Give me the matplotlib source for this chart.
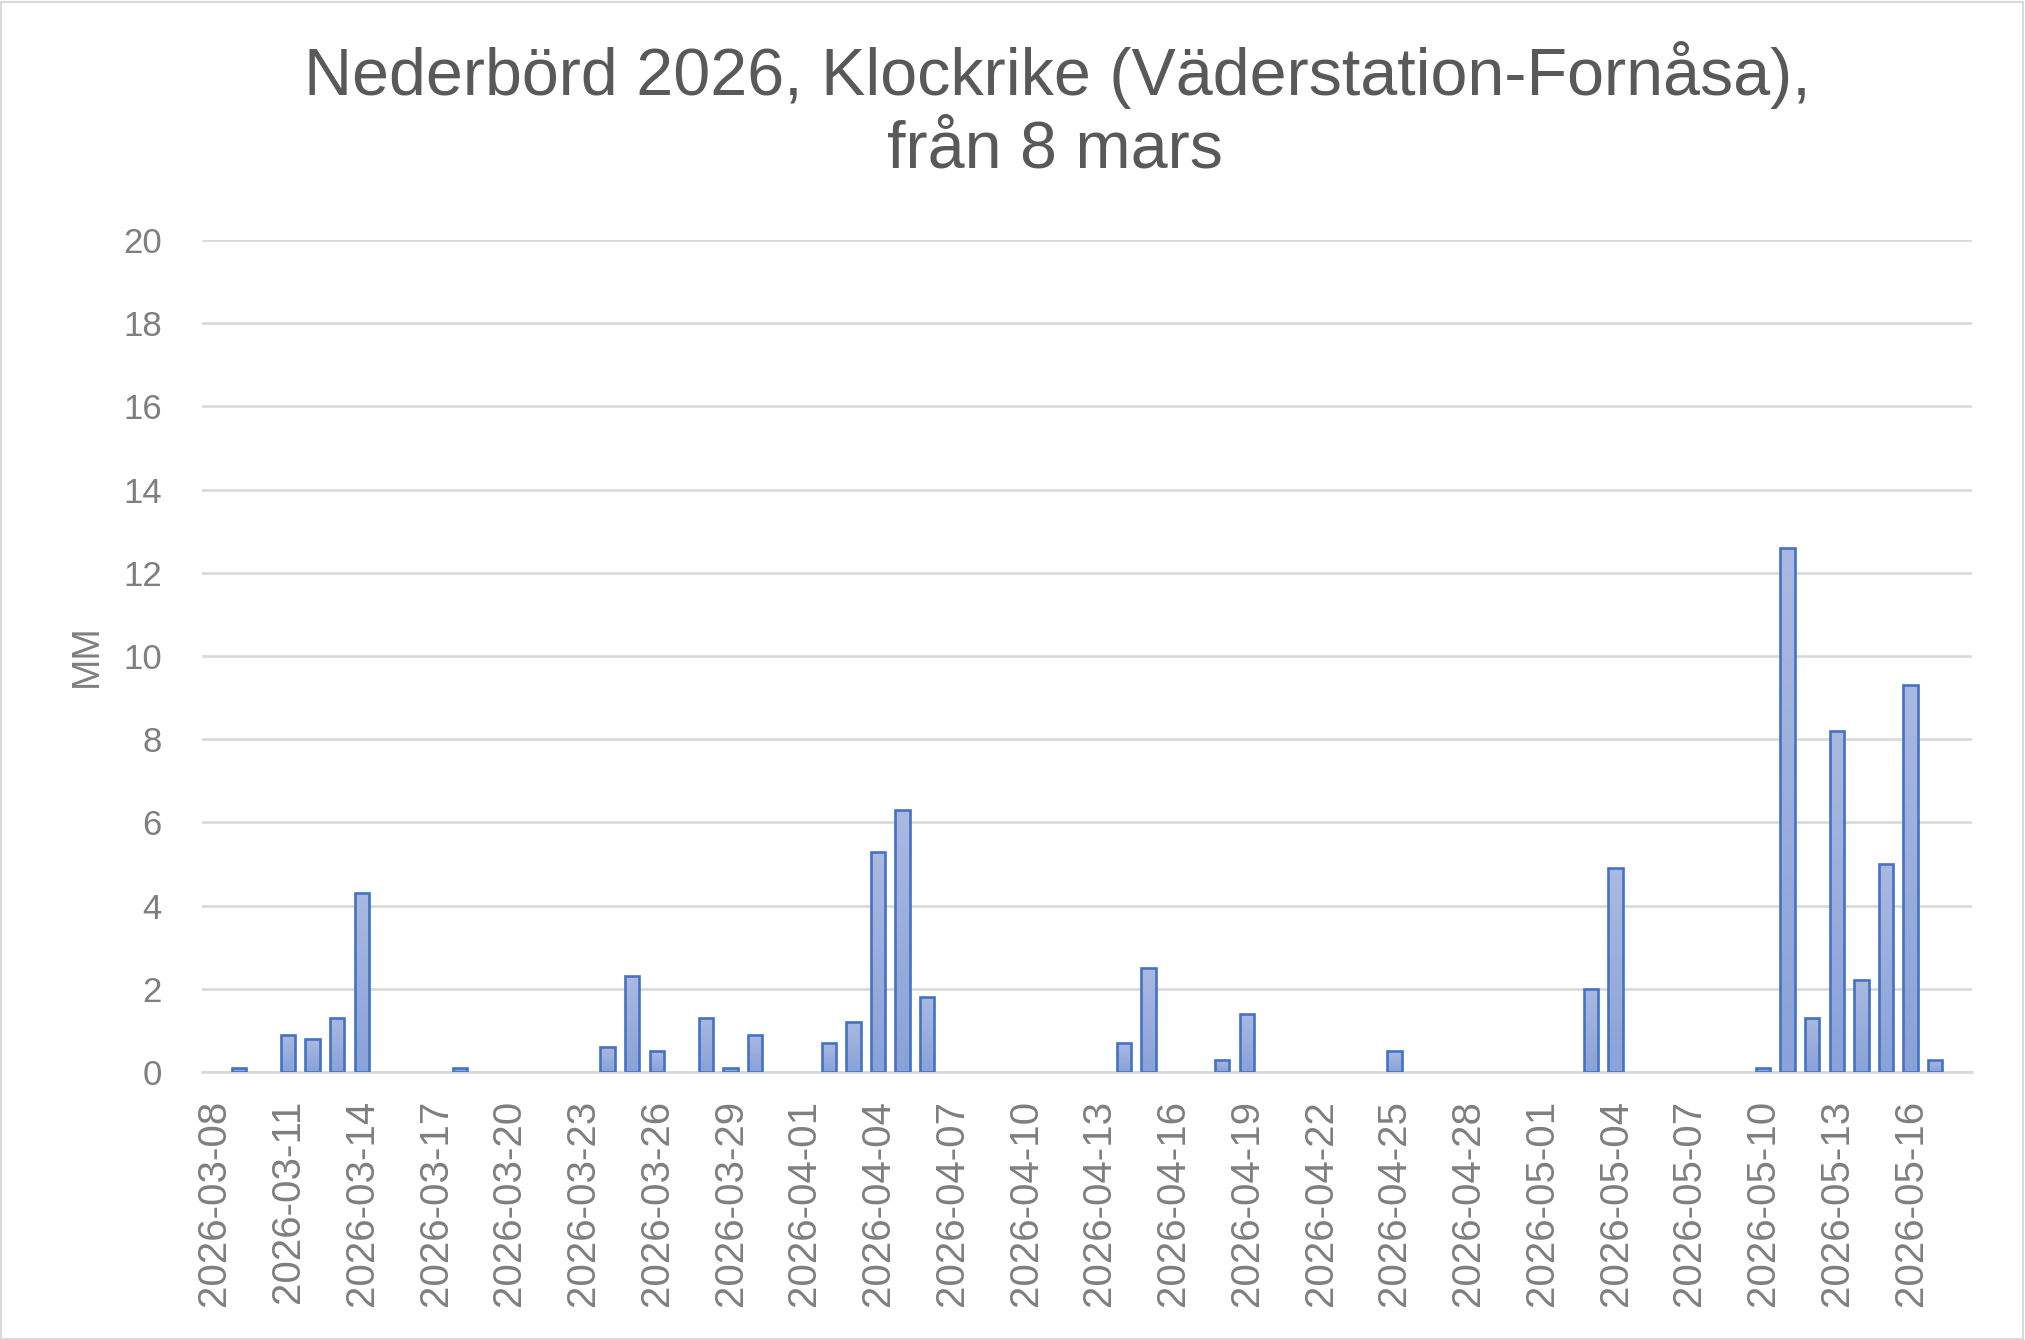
import matplotlib
matplotlib.use('Agg')
import matplotlib.pyplot as plt
import matplotlib.dates as mdates
import numpy as np
import pandas as pd
from matplotlib.patches import Rectangle
from matplotlib.colors import LinearSegmentedColormap

# ---- data ----
title_line1 = "Nederbörd 2026, Klockrike (Väderstation-Fornåsa),"
title_line2 = "från 8 mars"
y_label = "MM"
first_day = "2026-03-08"
last_day = "2026-05-18"   # last category on the axis (no rain recorded)
rain_dates = ["2026-03-09", "2026-03-11", "2026-03-12", "2026-03-13", "2026-03-14",
              "2026-03-18", "2026-03-24", "2026-03-25", "2026-03-26", "2026-03-28",
              "2026-03-29", "2026-03-30", "2026-04-02", "2026-04-03", "2026-04-04",
              "2026-04-05", "2026-04-06", "2026-04-14", "2026-04-15", "2026-04-18",
              "2026-04-19", "2026-04-25", "2026-05-03", "2026-05-04", "2026-05-10",
              "2026-05-11", "2026-05-12", "2026-05-13", "2026-05-14", "2026-05-15",
              "2026-05-16", "2026-05-17"]
rain_mm = [0.1, 0.9, 0.8, 1.3, 4.3,
           0.1, 0.6, 2.3, 0.5, 1.3,
           0.1, 0.9, 0.7, 1.2, 5.3,
           6.3, 1.8, 0.7, 2.5, 0.3,
           1.4, 0.5, 2.0, 4.9, 0.1,
           12.6, 1.3, 8.2, 2.2, 5.0,
           9.3, 0.3]
y_ticks = [0, 2, 4, 6, 8, 10, 12, 14, 16, 18, 20]
tick_step_days = 3

plt.rcParams['font.family'] = ['Liberation Sans', 'DejaVu Sans']

W, H = 2025, 1340
fig = plt.figure(figsize=(W / 100, H / 100), dpi=100)
left, right, top, bottom = 202, 1972, 240, 1072
ax = fig.add_axes([left / W, 1 - bottom / H, (right - left) / W, (bottom - top) / H])

dates = pd.to_datetime(rain_dates)
bars = ax.bar(dates, rain_mm, width=0.59, facecolor='none', edgecolor='#4472C4',
              linewidth=1.9, zorder=4, joinstyle='miter')

# gradient fill per bar
grad = np.linspace(0, 1, 256).reshape(-1, 1)
cmap = LinearSegmentedColormap.from_list('barfill', ['#aab9e1', '#8aa2d8'])
for p in bars.patches:
    x0 = p.get_x()
    w = p.get_width()
    h = p.get_height()
    im = ax.imshow(grad, cmap=cmap, aspect='auto', origin='upper',
                   extent=[x0, x0 + w, 0, h], zorder=3, interpolation='bilinear')
    im.set_clip_path(p)

start = pd.Timestamp(first_day)
end = pd.Timestamp(last_day)
ax.set_xlim(mdates.date2num(start) - 0.5, mdates.date2num(end) + 0.5)
ax.set_ylim(0, 20)

tick_days = pd.date_range(start, end, freq=f"{tick_step_days}D")
ax.set_xticks(mdates.date2num(tick_days))
ax.set_xticklabels([d.strftime('%Y-%m-%d') for d in tick_days], rotation=90,
                   fontsize=29, color='#7f7f7f')
ax.set_yticks(y_ticks)
ax.set_yticklabels([str(v) for v in y_ticks], fontsize=25, color='#7f7f7f')
ax.tick_params(axis='x', length=0, pad=20)
ax.tick_params(axis='y', length=0, pad=29)

ax.yaxis.grid(True, color='#d9d9d9', linewidth=1.9, zorder=0)
ax.set_axisbelow(True)
for s in ['top', 'right', 'left']:
    ax.spines[s].set_visible(False)
ax.spines['bottom'].set_color('#d9d9d9')
ax.spines['bottom'].set_linewidth(1.9)
ax.spines['bottom'].set_zorder(2)

ax.set_ylabel(y_label, fontsize=27, color='#7f7f7f')
ax.yaxis.set_label_coords(-(left - 105) / (right - left), 0.5)

fig.text(1057 / W, 1 - 95 / H, title_line1, ha='center', va='baseline',
         fontsize=47.8, color='#595959')
fig.text(1055 / W, 1 - 168 / H, title_line2, ha='center', va='baseline',
         fontsize=47.8, color='#595959')

fig.patches.append(Rectangle((1 / W, 1 / H), 1 - 3 / W, 1 - 3 / H, transform=fig.transFigure,
                             fill=False, edgecolor='#d9d9d9', linewidth=1.5))

fig.savefig('out.png', dpi=100, facecolor='white')
